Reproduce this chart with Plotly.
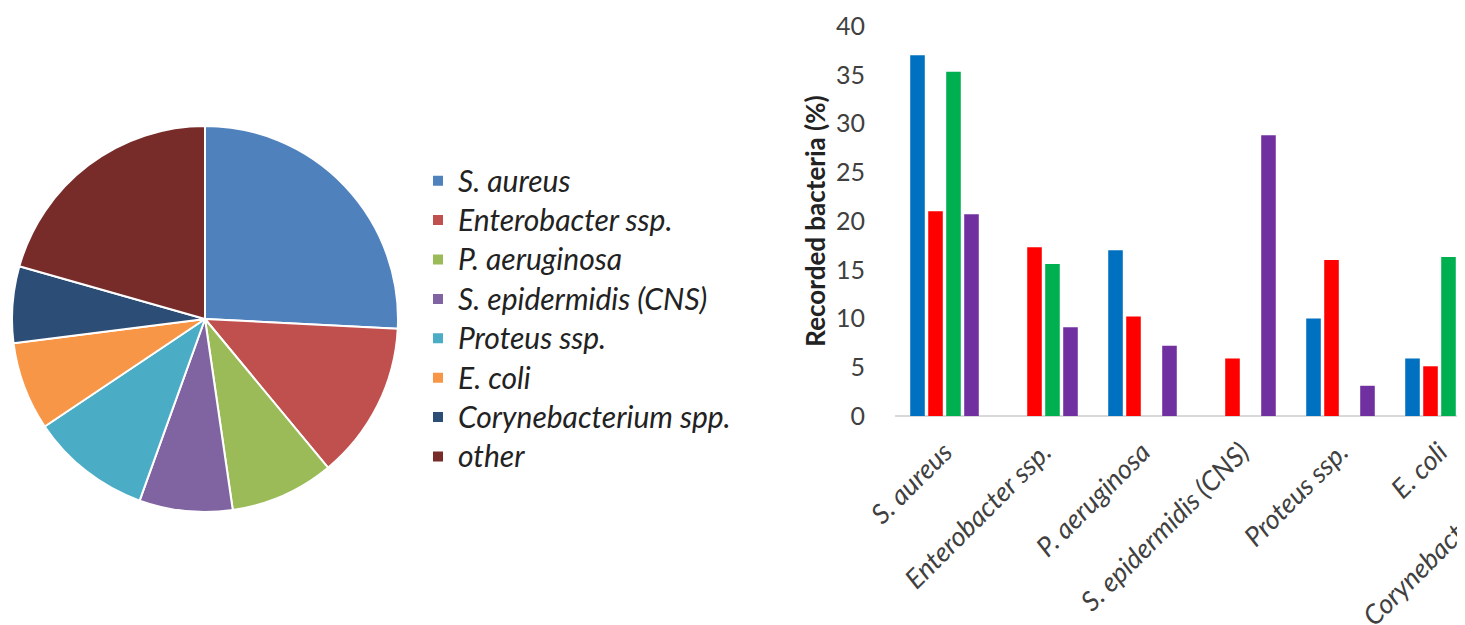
import plotly.graph_objects as go

# ---------------- data ----------------
pie_labels = ["S. aureus", "Enterobacter ssp.", "P. aeruginosa", "S. epidermidis (CNS)",
              "Proteus ssp.", "E. coli", "Corynebacterium spp.", "other"]
pie_values = [25.8, 13.2, 8.7, 7.8, 10.1, 7.4, 6.4, 20.6]
pie_colors = ["#4F81BD", "#C0504D", "#9BBB59", "#8064A2", "#4BACC6", "#F79646", "#2C4D75", "#772C2A"]

bar_categories = ["S. aureus", "Enterobacter ssp.", "P. aeruginosa", "S. epidermidis (CNS)",
                  "Proteus ssp.", "E. coli", "Corynebacterium spp."]
series_names = ["Series 1", "Series 2", "Series 3", "Series 4"]
series_1 = [37.0, 0, 17.0, 0, 10.0, 5.9, 3.0]
series_2 = [21.0, 17.3, 10.2, 5.9, 16.0, 5.1, 2.0]
series_3 = [35.3, 15.6, 0, 0, 0, 16.3, 4.0]
series_4 = [20.7, 9.1, 7.2, 28.8, 3.1, 4.9, 6.0]
series_colors = ["#0070C0", "#FF0000", "#00B050", "#7030A0"]
y_ticks = [0, 5, 10, 15, 20, 25, 30, 35, 40]

# ---------------- geometry helpers (page has an 8px body margin) ----------------
W, H = 1700, 625
OFF = 8
def fx(px):
    return (px - OFF) / W
def fy(py):
    return 1 - (py - OFF) / H

FONT = "Lato"
TXT = "#222222"

legend_labels = ['<span style="font-size:30px">%s</span>' % s for s in pie_labels]

fig = go.Figure()

fig.add_trace(go.Pie(
    labels=legend_labels, values=pie_values, sort=False, direction="clockwise", rotation=0,
    marker=dict(colors=pie_colors, line=dict(color="white", width=2)),
    textinfo="none", domain=dict(x=[fx(12), fx(398)], y=[fy(512), fy(126)]),
    legend="legend", hoverinfo="percent",
))

for name, vals, col in zip(series_names, [series_1, series_2, series_3, series_4], series_colors):
    fig.add_trace(go.Bar(
        x=bar_categories, y=vals, name=name, marker=dict(color=col, line=dict(width=0)),
        xaxis="x", yaxis="y", legend="legend2",
    ))

fig.update_layout(
    width=W, height=H, margin=dict(l=0, r=0, t=0, b=0, autoexpand=False),
    paper_bgcolor="white", plot_bgcolor="white",
    font=dict(family=FONT, color=TXT),
    barmode="group", bargap=0.273, bargroupgap=0.19,
    showlegend=True,
    legend=dict(x=fx(418), y=fy(156), xanchor="left", yanchor="top",
                font=dict(family=FONT, size=28, style="italic", color=TXT),
                bgcolor="rgba(0,0,0,0)", traceorder="normal"),
    legend2=dict(x=fx(1443), y=fy(5), xanchor="left", yanchor="top",
                 font=dict(family=FONT, size=25, color=TXT),
                 bgcolor="rgba(0,0,0,0)"),
    xaxis=dict(domain=[fx(895), fx(1588)], range=[-0.5, 6.5], type="category", automargin=False,
               showgrid=False, showline=False, zeroline=False, ticks="", ticklabelstandoff=14,
               tickangle=-45, tickfont=dict(family=FONT, size=27, style="italic", color="#404040")),
    yaxis=dict(domain=[fy(416), fy(26)], range=[0, 40], tickvals=y_ticks, automargin=False,
               showgrid=False, showline=False, zeroline=True, zerolinecolor="#D9D9D9", zerolinewidth=2,
               ticks="", ticklabelstandoff=29,
               tickfont=dict(family=FONT, size=25, color="#404040"),
               title=dict(text="Recorded bacteria (%)", standoff=2,
                          font=dict(family=FONT, size=26, weight="bold", color=TXT))),
)

fig.write_html("out.html")
